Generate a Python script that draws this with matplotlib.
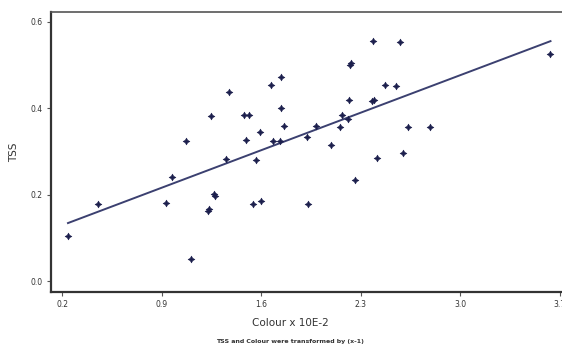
import matplotlib
matplotlib.use("Agg")
import matplotlib.pyplot as plt
import numpy as np

# points (Colour x 10E-2, TSS)
colour = [0.242, 0.453, 0.974, 0.932, 1.108, 1.227, 1.232, 1.270, 1.275, 1.249,
          1.073, 1.354, 1.375, 1.481, 1.516, 1.495, 1.593, 1.565, 1.544, 1.600,
          1.671, 1.741, 1.741, 1.762, 1.685, 1.734, 1.931, 1.924, 1.987, 2.093,
          2.156, 2.170, 2.213, 2.220, 2.227, 2.232, 2.262, 2.389, 2.382, 2.392,
          2.417, 2.473, 2.550, 2.579, 2.600, 2.635, 2.790, 3.634]
tss = [0.104, 0.178, 0.240, 0.180, 0.051, 0.162, 0.166, 0.201, 0.197, 0.382,
       0.324, 0.282, 0.437, 0.384, 0.384, 0.326, 0.345, 0.280, 0.178, 0.185,
       0.453, 0.472, 0.400, 0.358, 0.324, 0.324, 0.178, 0.333, 0.358, 0.314,
       0.356, 0.384, 0.375, 0.418, 0.499, 0.503, 0.234, 0.555, 0.416, 0.419,
       0.284, 0.453, 0.451, 0.553, 0.296, 0.356, 0.356, 0.525]

# regression line as drawn in the figure
fit_intercept = 0.104
fit_slope = 0.124

xticks = [0.2, 0.9, 1.6, 2.3, 3.0, 3.7]
yticks = [0.0, 0.2, 0.4, 0.6]

fig = plt.figure(figsize=(5.62, 3.47), dpi=100)
ax = fig.add_axes([51 / 562, 1 - 292 / 347, 516 / 562, 280 / 347])

ax.scatter(colour, tss, marker=(4, 1, 0), s=24, color='#1c1f4d', zorder=3, linewidths=0.4)

xl = np.array([min(colour), max(colour)])
ax.plot(xl, fit_intercept + fit_slope * xl, color='#3b4070', lw=1.4, zorder=2)

ax.set_xlim(0.1226, 3.75)
ax.set_ylim(-0.0254, 0.622)
ax.set_xticks(xticks)
ax.set_xticklabels(['0.2', '0.9', '1.6', '2.3', '3.0', '3.7'])
ax.set_yticks(yticks)
ax.set_yticklabels(['0.0', '0.2', '0.4', '0.6'])
ax.tick_params(length=3, width=0.8, color='#555555', labelsize=5.5, labelcolor='#333333', pad=3)

for side in ['left', 'bottom']:
    ax.spines[side].set_linewidth(1.6)
    ax.spines[side].set_color('#333333')
ax.spines['top'].set_linewidth(1.2)
ax.spines['top'].set_color('#555555')
ax.spines['right'].set_visible(False)

ax.set_ylabel('TSS', fontsize=7.5, color='#333333', labelpad=8)
fig.text(290 / 562, 1 - 323 / 347, 'Colour x 10E-2', fontsize=7.5, color='#333333',
         ha='center', va='center')
fig.text(290 / 562, 1 - 341 / 347, 'TSS and Colour were transformed by (x-1)', fontsize=4.5,
         fontweight='bold', color='#333333', ha='center', va='center')

fig.savefig('out.png', dpi=100, facecolor='white')
